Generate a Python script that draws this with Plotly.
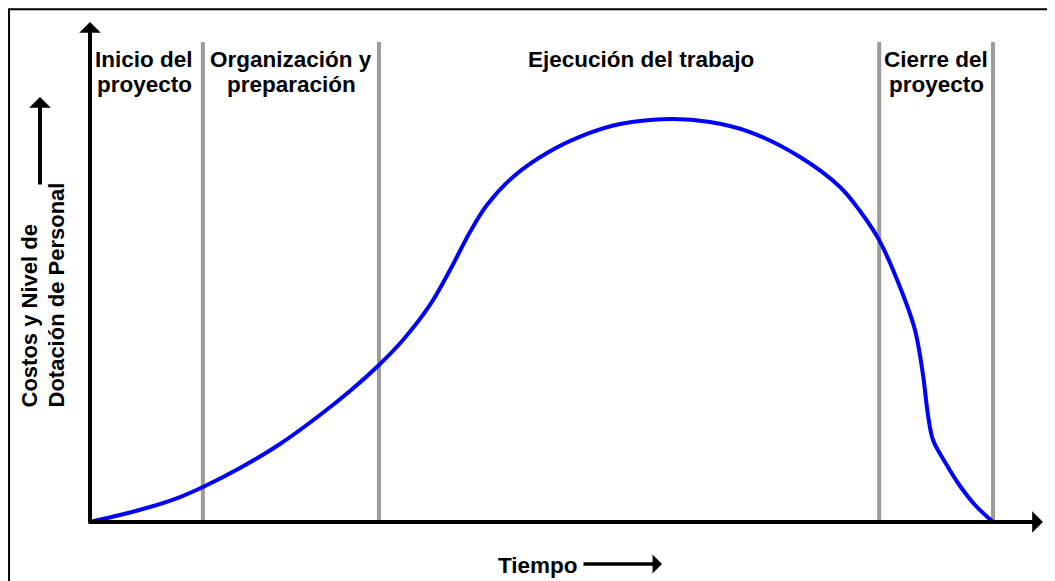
import plotly.graph_objects as go

# ---- data (time units 0..100, level units 0..100) ----
tiempo = [0, 3.32, 6.64, 9.97, 12.51, 16.61, 21.04, 25.47, 28.79, 32.00, 34.66, 37.65,
          39.87, 42.08, 43.96, 46.84, 50.61, 55.04, 58.69, 64.23, 68.66, 73.09, 78.63,
          83.06, 85.27, 87.38, 89.70, 91.36, 92.25, 92.80, 93.36, 94.68, 96.35, 98.01, 100]
nivel = [0, 1.74, 3.72, 6.20, 8.68, 13.40, 19.35, 26.55, 32.51, 38.96, 45.16, 53.85,
         62.53, 71.96, 78.66, 85.61, 91.56, 96.28, 98.76, 100.0, 99.26, 96.77, 90.57,
         83.13, 77.17, 70.0, 58.31, 47.64, 36.48, 26.55, 20.35, 14.89, 8.93, 4.22, 0]
limites_fase = [12.5, 32.0, 87.4, 100.0]
fases = [["Inicio del", "proyecto"], ["Organización y", "preparación"],
         ["Ejecución del trabajo"], ["Cierre del", "proyecto"]]
centros_fase = [6.0, 22.3, 61.0, 93.7]
eje_y_lineas = ["Costos y Nivel de", "Dotación de Personal"]
eje_x_texto = "Tiempo"

# ---- geometry (page body has an 8px margin, so figure is drawn 8px smaller) ----
OFF = 8
W, H = 1055 - OFF, 581 - OFF
X0, Y0, KX, KY = 90 - OFF, 522 - OFF, 9.03, 4.03
xr = [-X0 / KX, (W - X0) / KX]
yr = [-(H - Y0) / KY, Y0 / KY]

def dx(p):  # reference pixel -> data
    return (p - OFF - X0) / KX

def dy(p):
    return (Y0 - (p - OFF)) / KY

FONT = dict(family="Liberation Sans, Arial, sans-serif", size=22.5, color="black", weight="bold")

fig = go.Figure()
fig.add_trace(go.Scatter(x=tiempo, y=nivel, mode="lines",
                         line=dict(color="#0000ff", width=4, shape="spline", smoothing=1.0),
                         hoverinfo="skip"))

shapes = []
for lx in limites_fase:
    shapes.append(dict(type="line", xref="x", yref="y", x0=lx, x1=lx, y0=0, y1=dy(42),
                       line=dict(color="#9c9c9c", width=4), layer="below"))
# border (left and top edges visible)
shapes.append(dict(type="rect", xref="paper", yref="paper", x0=0.001, x1=1.01,
                   y0=-0.01, y1=0.998, line=dict(color="black", width=2)))

ann = []
def arrow(x_tip, y_tip, x_tail, y_tail, w=4):
    ann.append(dict(x=x_tip, y=y_tip, ax=x_tail, ay=y_tail, xref="x", yref="y",
                    axref="x", ayref="y", text="", showarrow=True, arrowhead=1,
                    arrowsize=0.9, arrowwidth=w, arrowcolor="black", standoff=0))

arrow(dx(1043), 0, dx(87), 0)           # x axis
arrow(0, dy(22), 0, dy(524))            # y axis
arrow(dx(40), dy(97), dx(40), dy(186))  # y label arrow
arrow(dx(662), dy(564), dx(582), dy(564), w=3.5)  # tiempo arrow

line_y = [dy(59), dy(84)]
for lines, cx in zip(fases, centros_fase):
    for i, t in enumerate(lines):
        ann.append(dict(x=cx, y=line_y[i], xref="x", yref="y", text=t, showarrow=False,
                        font=FONT, xanchor="center", yanchor="middle"))

for i, t in enumerate(eje_y_lineas):
    ann.append(dict(x=dx([29, 56][i]), y=dy(410), xref="x", yref="y", text=t, showarrow=False,
                    font=dict(FONT, size=22), textangle=-90, xanchor="center", yanchor="bottom"))

ann.append(dict(x=dx(538), y=dy(565), xref="x", yref="y", text=eje_x_texto, showarrow=False,
                font=FONT, xanchor="center", yanchor="middle"))

fig.update_layout(
    width=W, height=H, margin=dict(l=0, r=0, t=0, b=0),
    paper_bgcolor="white", plot_bgcolor="white", showlegend=False,
    xaxis=dict(range=xr, visible=False, fixedrange=True),
    yaxis=dict(range=yr, visible=False, fixedrange=True),
    shapes=shapes, annotations=ann,
)
fig.write_html("out.html")
